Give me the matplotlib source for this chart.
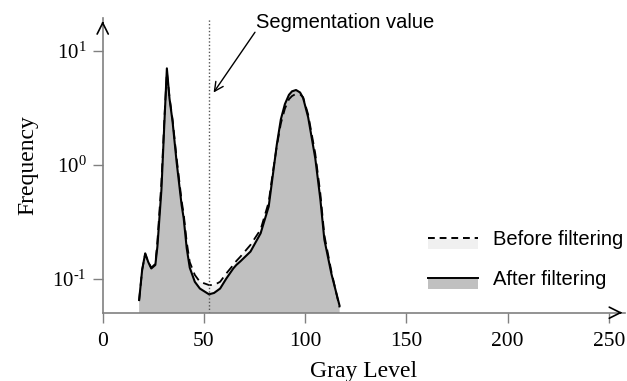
import numpy as np
import matplotlib.pyplot as plt
from matplotlib.lines import Line2D
from matplotlib.patches import Rectangle

plt.rcParams['font.family'] = 'Liberation Serif'
plt.rcParams['mathtext.fontset'] = 'custom'
plt.rcParams['mathtext.rm'] = 'Liberation Serif'

# gray-level histogram, before and after filtering (log frequency)
gray = [18, 19.5, 21, 22.5, 24, 26, 27, 29, 30.5, 31.7, 33, 34.5, 36.5, 39, 40, 41.5,
        43, 45.5, 48, 52.5, 55, 58, 61, 64.5, 66, 68, 73, 78, 82, 84, 86, 88, 90, 92,
        93.5, 95.5, 97.5, 99, 101.5, 105, 107.5, 109.5, 113, 117]
after = [0.065, 0.12, 0.167, 0.14, 0.123, 0.132, 0.19, 0.6, 2.4, 7.0, 3.8, 2.4, 1.06,
         0.44, 0.34, 0.185, 0.125, 0.094, 0.082, 0.073, 0.075, 0.082, 0.10, 0.123,
         0.132, 0.142, 0.173, 0.25, 0.43, 0.8, 1.5, 2.5, 3.4, 4.1, 4.4, 4.52, 4.3,
         3.85, 2.6, 1.14, 0.5, 0.22, 0.11, 0.058]
before = [0.065, 0.12, 0.165, 0.14, 0.125, 0.135, 0.21, 0.7, 2.6, 6.5, 3.9, 2.5, 1.15,
          0.48, 0.37, 0.21, 0.14, 0.108, 0.094, 0.088, 0.088, 0.094, 0.111, 0.132,
          0.143, 0.156, 0.198, 0.27, 0.47, 0.85, 1.45, 2.3, 3.1, 3.75, 4.0, 4.18,
          4.15, 3.9, 2.75, 1.25, 0.56, 0.24, 0.115, 0.056]
seg_value = 52.3

xticks = [0, 50, 100, 150, 200, 250]
yticks = [0.1, 1, 10]
ylabels = [r'$\mathregular{10^{\text{-}1}}$', r'$\mathregular{10^{0}}$', r'$\mathregular{10^{1}}$']

W, H = 627, 381
fig = plt.figure(figsize=(W / 100, H / 100), dpi=100)
ax = fig.add_axes([102.7 / W, 1 - 312.7 / H, 522.3 / W, (312.7 - 18.3) / H])

ax.set_yscale('log')
ax.set_xlim(0, 258)
ax.set_ylim(10 ** -1.298, 10 ** 1.284)

ax.fill_between(gray, before, 1e-3, color='#f0f0f0', lw=0)
ax.fill_between(gray, after, 1e-3, color='#c0c0c0', lw=0)
ax.plot(gray, before, color='k', lw=1.3, ls=(0, (5, 3)))
ax.plot(gray, after, color='k', lw=1.5)

ax.axvline(seg_value, color='#555555', lw=1.0, ls=(0, (1, 1.5)))

ax.text(75.5, 10 ** 1.25, 'Segmentation value', family='Liberation Sans',
        fontsize=14.5, ha='left', va='center')
ax.annotate('', xy=(54, 4.1), xytext=(76, 15.2),
            arrowprops=dict(arrowstyle='->', color='k', lw=1.0, mutation_scale=16))

for s in ['top', 'right']:
    ax.spines[s].set_visible(False)
for s in ['left', 'bottom']:
    ax.spines[s].set_color('#808080')
    ax.spines[s].set_linewidth(1.2)

ax.set_xticks(xticks)
ax.set_yticks(yticks, ylabels)
ax.minorticks_off()
ax.tick_params(axis='both', colors='#808080', labelcolor='k',
               length=7, width=1.0, direction='out')
ax.tick_params(axis='x', pad=7, labelsize=15.5)
ax.tick_params(axis='y', pad=4.5, labelsize=15)

ax.set_xlabel('Gray Level', fontsize=17, labelpad=7)
ax.set_ylabel('Frequency', fontsize=17, labelpad=10)

# axis arrow heads
arrow = dict(arrowstyle='->', color='k', lw=1.2, mutation_scale=20)
ax.annotate('', xy=(1, 0), xytext=(0.985, 0), xycoords='axes fraction', arrowprops=arrow)
ax.annotate('', xy=(0, 1), xytext=(0, 0.97), xycoords='axes fraction', arrowprops=arrow)

# legend: line over a filled swatch
def px(x, y):
    return x / W, 1 - y / H

for y, ls, fc, label in [(237.5, (0, (3.5, 2.5)), '#f0f0f0', 'Before filtering'),
                         (277.5, '-', '#c0c0c0', 'After filtering')]:
    x0, y0 = px(428, y + 11.5)
    x1, y1 = px(478, y + 1)
    fig.add_artist(Rectangle((x0, y0), x1 - x0, y1 - y0, transform=fig.transFigure,
                             color=fc, lw=0))
    a, b = px(428, y)
    c, d = px(478, y)
    fig.add_artist(Line2D([a, c], [b, d], transform=fig.transFigure, color='k',
                          lw=1.4, ls=ls))
    tx, ty = px(493, y + 2)
    fig.text(tx, ty, label, family='Liberation Sans', fontsize=14.5, va='center')

fig.savefig('out.png', dpi=100)
